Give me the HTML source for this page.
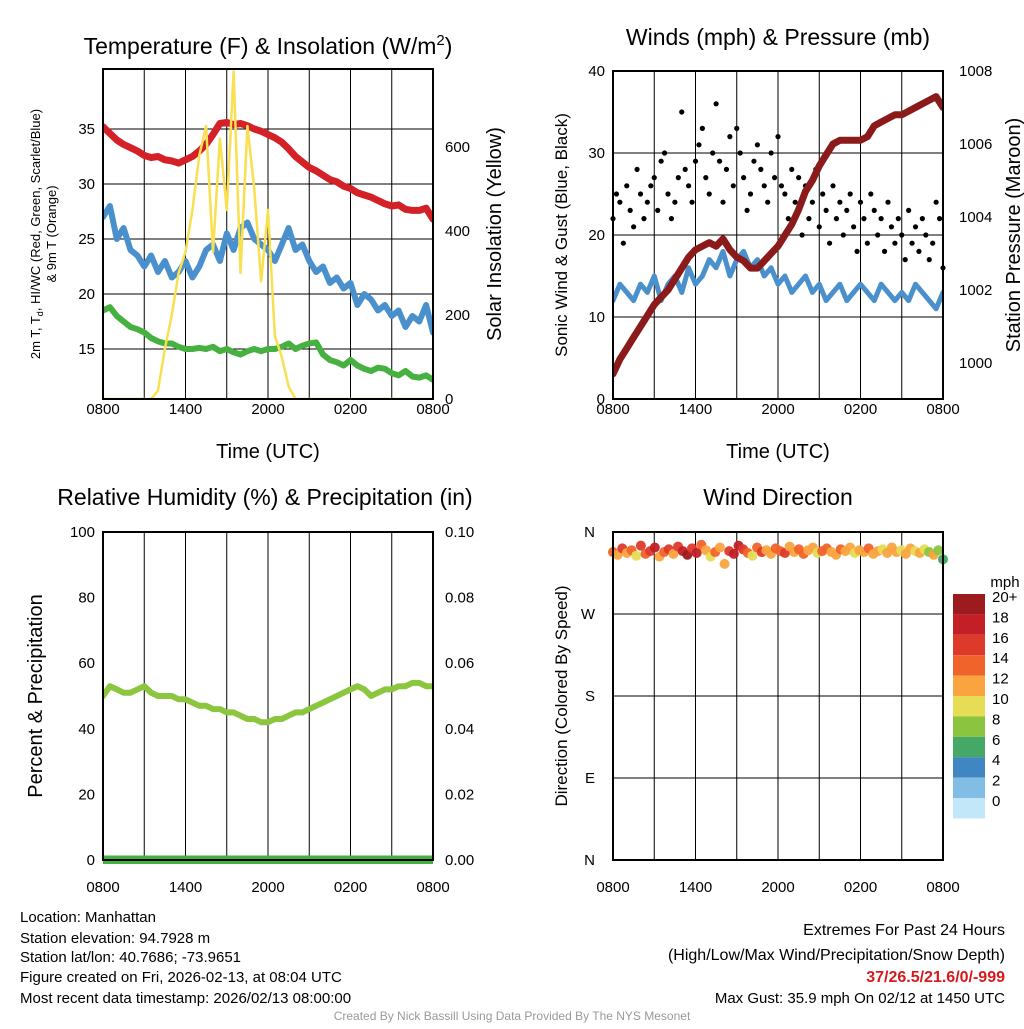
<!DOCTYPE html>
<html><head><meta charset="utf-8"><style>
body{margin:0;background:#fff;}
svg text{font-family:"Liberation Sans",Arial,sans-serif;}
</style></head><body>
<svg id="s" width="1024" height="1024" xmlns="http://www.w3.org/2000/svg">
<defs>
<clipPath id="c1"><rect x="103" y="69" width="330" height="330"/></clipPath>
<clipPath id="c2"><rect x="613" y="71" width="330" height="328"/></clipPath>
<clipPath id="c3"><rect x="103" y="532" width="330" height="332"/></clipPath>
<clipPath id="c4"><rect x="613" y="532" width="330" height="328"/></clipPath>
</defs>
<g id="g"></g>
<text x="20" y="922" font-size="15">Location: Manhattan</text>
<text x="20" y="943" font-size="15">Station elevation: 94.7928 m</text>
<text x="20" y="962" font-size="15">Station lat/lon: 40.7686; -73.9651</text>
<text x="20" y="982" font-size="15">Figure created on Fri, 2026-02-13, at 08:04 UTC</text>
<text x="20" y="1003" font-size="15">Most recent data timestamp: 2026/02/13 08:00:00</text>
<text x="1005" y="935" font-size="16" text-anchor="end">Extremes For Past 24 Hours</text>
<text x="1005" y="960" font-size="16" text-anchor="end">(High/Low/Max Wind/Precipitation/Snow Depth)</text>
<text x="1005" y="982" font-size="16" font-weight="bold" fill="#d7191c" text-anchor="end">37/26.5/21.6/0/-999</text>
<text x="1005" y="1003" font-size="15" text-anchor="end">Max Gust: 35.9 mph On 02/12 at 1450 UTC</text>
<text x="512" y="1020" font-size="12" fill="#999" text-anchor="middle">Created By Nick Bassill Using Data Provided By The NYS Mesonet</text>
</svg>
<script>
// ---- data (half-hourly unless noted) ----
const xTicks=["0800","1400","2000","0200","0800"];
const tempF=[35.2,34.6,34,33.6,33.3,33,32.6,32.4,32.5,32.2,32.1,31.9,32.2,32.5,33,33.6,34.5,35.5,35.6,35.4,35.5,35.3,35,34.8,34.5,34.2,33.8,33.2,32.5,32,31.5,31.2,30.8,30.4,30.2,29.8,29.6,29.2,29,28.8,28.5,28.2,28,28.1,27.7,27.6,27.6,27.8,26.8];
const windChill=[27,28,25,26,24,23.5,22.5,23.5,22,23,21.5,22,23,21.5,22.5,24,24.5,23,25.5,24,26,26.5,25,24.5,24,23,24.5,26,24,24.5,23,22,22.5,21,21.5,20.5,21,19,20,19.5,18.5,19,18,18.5,17,18,17.5,19,16.5];
const dewF=[18.5,18.8,18,17.5,17,16.8,16.5,16,15.7,15.5,15.5,15.2,15,15,15.1,15,15.2,14.8,15,14.7,14.5,14.8,15,14.8,15,15,15.2,15.5,15,15.3,15.5,15.6,14.5,14,13.8,13.5,14,13.5,13.2,13,13.3,13.2,12.8,12.6,13,12.5,12.4,12.6,12.2];
const solar=[0,0,0,0,0,0,0,0,20,120,200,300,350,450,580,650,350,620,450,780,300,650,500,280,450,150,100,30,0,0,0,0,0,0,0,0,0,0,0,0,0,0,0,0,0,0,0,0,0];
const windSpd=[12,14,13,12,14,13,15,12,14,15,13,16,14,15,17,16,18,15,17,18,16,17,15,16,14,15,13,14,15,13,14,12,13,14,12,13,14,13,12,14,13,12,13,12,14,13,12,11,13];
const pressure=[999.7,1000.1,1000.4,1000.7,1001.0,1001.3,1001.6,1001.8,1002.0,1002.3,1002.6,1002.9,1003.1,1003.2,1003.3,1003.2,1003.4,1003.1,1002.9,1002.8,1002.6,1002.6,1002.8,1003.0,1003.2,1003.5,1003.8,1004.2,1004.7,1005.0,1005.4,1005.7,1006.0,1006.1,1006.1,1006.1,1006.1,1006.2,1006.5,1006.6,1006.7,1006.8,1006.8,1006.9,1007.0,1007.1,1007.2,1007.3,1007.0];
// gusts every 15 min
const gusts=[22,25,24,19,26,23,21,28,25,22,24,26,27,23,29,30,25,22,24,27,35,28,26,24,29,31,33,27,25,30,36,29,24,28,32,26,33,30,27,23,25,29,31,28,26,24,30,27,32,26,25,22,28,24,27,20,26,22,24,28,21,25,23,19,26,22,24,20,23,25,21,18,24,22,19,25,23,20,22,18,24,21,19,22,20,17,23,19,21,18,22,20,17,19,24,22,16];
const rh=[50,53,52,51,51,52,53,51,50,50,50,49,49,48,47,47,46,46,45,45,44,43,43,42,42,43,43,44,45,45,46,47,48,49,50,51,52,53,52,50,51,52,52,53,53,54,54,53,53];
const precip=[0,0,0,0,0,0,0,0,0,0,0,0,0,0,0,0,0,0,0,0,0,0,0,0,0,0,0,0,0,0,0,0,0,0,0,0,0,0,0,0,0,0,0,0,0,0,0,0,0];
// wind direction every 20 min (deg) and speed (mph)
const wdir=[338,335,342,337,340,334,345,336,339,343,333,338,341,336,344,339,335,342,337,346,340,333,338,343,325,339,336,345,341,337,334,343,338,340,336,342,339,337,344,338,341,336,340,343,337,339,342,338,335,341,339,343,337,340,338,342,336,339,341,337,343,338,340,336,342,339,337,341,338,335,340,330];
const wspd=[14,12,16,13,15,11,17,14,16,18,12,15,16,13,17,18,20,16,19,15,13,11,14,12,12,16,18,19,17,15,10,14,16,13,12,15,14,16,13,12,15,14,13,12,11,14,15,13,12,14,13,12,11,13,12,14,13,12,11,13,12,12,11,12,13,11,12,10,9,12,8,7];
const cbLabels=["20+","18","16","14","12","10","8","6","4","2","0"];
const cbColors=["#9b1b1e","#c21f26","#dd3a2c","#f0632b","#f9a43f","#e6dc55","#8bc43f","#46a867","#3f86c2","#82bde6","#c2e7f8"];
function spdColor(v){let i=Math.min(10,Math.floor(v/2));return cbColors[10-i];}

const NS="http://www.w3.org/2000/svg",G=document.getElementById('g');
function el(t,a,p){const e=document.createElementNS(NS,t);for(const k in a)e.setAttribute(k,a[k]);(p||G).appendChild(e);return e;}
function txt(x,y,s,size,anchor,extra){const e=el('text',Object.assign({x:x,y:y,'font-size':size,'text-anchor':anchor||'middle'},extra||{}));e.textContent=s;return e;}
function panel(x0,y0,w,h,clip){
  return {x:t=>x0+t/24*w, x0,y0,w,h,clip};
}
function lin(d0,d1,p0,p1){return v=>p0+(v-d0)/(d1-d0)*(p1-p0);}
function frame(P,name,hgrid,tickOff){
  for(let i=1;i<8;i++){const gx=P.x0+i*P.w/8;const l=el('line',{x1:gx,x2:gx,y1:P.y0,y2:P.y0+P.h,stroke:'#000','stroke-width':1});
  
  }
  hgrid.forEach(gy=>{const l=el('line',{x1:P.x0,x2:P.x0+P.w,y1:gy,y2:gy,stroke:'#000','stroke-width':1});
  
  });
  xTicks.forEach((s,i)=>{const t=txt(P.x0+i*P.w/4,P.y0+P.h+tickOff,s,15);
  
  });
}
function border(P,name){const r=el('rect',{x:P.x0,y:P.y0,width:P.w,height:P.h,fill:'none',stroke:'#000','stroke-width':2});

}
function line(P,arr,yf,col,w,name){
  const n=arr.length;const pts=arr.map((v,i)=>P.x(i*24/(n-1)).toFixed(1)+','+yf(v).toFixed(1)).join(' ');
  const p=el('polyline',{points:pts,fill:'none',stroke:col,'stroke-width':w,'stroke-linejoin':'round','stroke-linecap':'round','clip-path':'url(#'+P.clip+')'});
  
  
}
// ---- Panel 1 ----
const P1=panel(103,69,330,330,'c1');
const yT=lin(15,35,349,129), yS=lin(0,600,399,147);
frame(P1,'temp',[129,184,239,294,349],15);
[15,20,25,30,35].forEach(v=>{const t=txt(P1.x0-8,yT(v)+5,v,15,'end');});
[0,200,400,600].forEach(v=>{const t=txt(P1.x0+P1.w+12,yS(v)+5,v,15,'start');});
line(P1,dewF,yT,'#46b040',6,'dewpoint-line');
line(P1,windChill,yT,'#4a90cc',6,'windchill-line');
line(P1,tempF,yT,'#d42027',7,'temperature-line');
line(P1,solar,yS,'#f8e050',2.5,'insolation-line');
border(P1,'temp');
{let t=txt(268,54,'Temperature (F) & Insolation (W/m',23);
 const sp=document.createElementNS(NS,'tspan');sp.setAttribute('dy','-9');sp.setAttribute('font-size','15');sp.textContent='2';t.appendChild(sp);
 const sp2=document.createElementNS(NS,'tspan');sp2.setAttribute('dy','9');sp2.textContent=')';t.appendChild(sp2);}
{let t=txt(268,458,'Time (UTC)',20);}
{let t=txt(0,0,'2m T, T',13,'middle',{transform:'translate(40,234) rotate(-90)'});const s=document.createElementNS(NS,'tspan');s.setAttribute('font-size','9');s.setAttribute('dy','3');s.textContent='d';t.appendChild(s);const s2=document.createElementNS(NS,'tspan');s2.setAttribute('dy','-3');s2.textContent=', HI/WC (Red, Green, Scarlet/Blue)';t.appendChild(s2);}
{let t=txt(0,0,'& 9m T (Orange)',13,'middle',{transform:'translate(56,234) rotate(-90)'});}
{let t=txt(0,0,'Solar Insolation (Yellow)',20,'middle',{transform:'translate(501,234) rotate(-90)'});}
// ---- Panel 2 ----
const P2=panel(613,71,330,328,'c2');
const yW=lin(0,40,399,71), yP=lin(1000,1008,363,71);
frame(P2,'wind',[153,235,317],15);
[0,10,20,30,40].forEach(v=>{const t=txt(P2.x0-8,yW(v)+5,v,15,'end');});
[1000,1002,1004,1006,1008].forEach(v=>{const t=txt(P2.x0+P2.w+16,yP(v)+5,v,15,'start');});
line(P2,windSpd,yW,'#4a90cc',5,'wind-speed-line');
gusts.forEach((v,i)=>{const c=el('circle',{cx:P2.x(i*24/(gusts.length-1)),cy:yW(v),r:2.6,fill:'#000'});

});
line(P2,pressure,yP,'#8b1a1a',7,'pressure-line');
border(P2,'wind');
{let t=txt(778,45,'Winds (mph) & Pressure (mb)',23);}
{let t=txt(778,458,'Time (UTC)',20);}
{let t=txt(0,0,'Sonic Wind & Gust (Blue, Black)',17,'middle',{transform:'translate(567,235) rotate(-90)'});}
{let t=txt(0,0,'Station Pressure (Maroon)',20,'middle',{transform:'translate(1020,235) rotate(-90)'});}
// ---- Panel 3 ----
const P3=panel(103,532,330,328,'c3');
const yR=lin(0,100,860,532), yPr=lin(0,0.1,860,532);
frame(P3,'rh',[],32);
[0,20,40,60,80,100].forEach(v=>{const t=txt(P3.x0-8,yR(v)+5,v,15,'end');});
[0,0.02,0.04,0.06,0.08,0.10].forEach(v=>{const t=txt(P3.x0+P3.w+12,yPr(v)+5,v.toFixed(2),15,'start');});
line(P3,rh,yR,'#8cc63f',6,'rh-line');
line(P3,precip,yPr,'#46b040',9,'precip-line');
border(P3,'rh');
{let t=txt(265,505,'Relative Humidity (%) & Precipitation (in)',23);}
{let t=txt(0,0,'Percent & Precipitation',20,'middle',{transform:'translate(42,696) rotate(-90)'});}
// ---- Panel 4 ----
const P4=panel(613,532,330,328,'c4');
const yD=lin(0,360,860,532);
frame(P4,'dir',[614,696,778],32);
[["N",360],["W",270],["S",180],["E",90],["N",0]].forEach(d=>{const t=txt(P4.x0-18,yD(d[1])+5,d[0],15,'end');});
wdir.forEach((v,i)=>{const c=el('circle',{cx:P4.x(i*24/(wdir.length-1)),cy:yD(v),r:5,fill:spdColor(wspd[i]),'fill-opacity':0.95});

});
border(P4,'dir');
{let t=txt(778,505,'Wind Direction',23);}
{let t=txt(0,0,'Direction (Colored By Speed)',17,'middle',{transform:'translate(567,696) rotate(-90)'});}
{let t=txt(1005,587,'mph',15);}
cbColors.forEach((c,i)=>{const r=el('rect',{x:953,y:594+i*20.4,width:32,height:20.4,fill:c});


const t=txt(992,594+i*20.4+8,cbLabels[i],15,'start');

});
</script>
</body></html>
